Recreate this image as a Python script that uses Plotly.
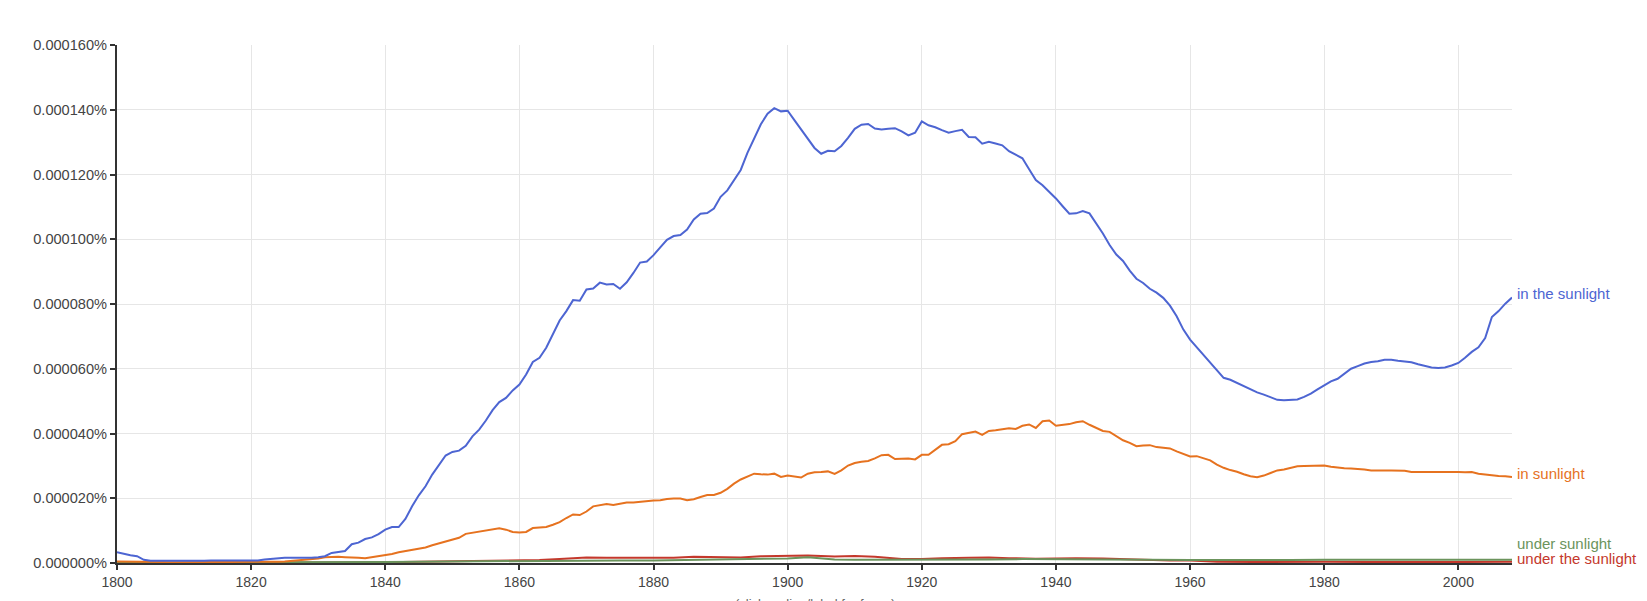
import plotly.graph_objects as go

# ---------------- data (values in units of 0.000001 %) ----------------
years = list(range(1800, 2009))

in_the_sunlight = [
    3.3, 2.8, 2.4, 2.1, 1.0, 0.7, 0.7, 0.7, 0.7, 0.6,          # 1800
    0.5, 0.5, 0.6, 0.7, 0.8, 0.8, 0.8, 0.9, 0.8, 0.7,          # 1810
    0.7, 0.8, 1.1, 1.3, 1.3, 1.6, 1.6, 1.6, 1.5, 1.6,          # 1820
    1.8, 2.1, 3.1, 3.4, 3.7, 5.8, 6.3, 7.4, 7.9, 8.9,          # 1830
    10.3, 11.1, 11.1, 13.6, 17.5, 20.9, 23.7, 27.3, 30.4, 33.2,  # 1840
    34.3, 34.7, 36.2, 39.1, 41.2, 44.0, 47.2, 49.7, 51.0, 53.3,  # 1850
    55.1, 58.2, 62.1, 63.4, 66.5, 70.6, 74.9, 77.8, 81.2, 81.0,  # 1860
    84.5, 84.8, 86.6, 86.0, 86.2, 84.7, 86.7, 89.6, 92.8, 93.1,  # 1870
    95.1, 97.5, 99.8, 101.0, 101.3, 103.0, 106.1, 107.9, 108.1, 109.5,  # 1880
    113.1, 115.1, 118.3, 121.4, 126.7, 131.2, 135.5, 138.8, 140.5, 139.5,  # 1890
    139.7, 136.8, 133.9, 131.0, 128.2, 126.4, 127.3, 127.2, 128.8, 131.3,  # 1900
    134.1, 135.4, 135.6, 134.2, 133.9, 134.1, 134.3, 133.3, 132.1, 132.9,  # 1910
    136.4, 135.2, 134.6, 133.7, 132.9, 133.4, 133.8, 131.6, 131.5, 129.5,  # 1920
    130.1, 129.6, 129.0, 127.2, 126.1, 125.0, 121.6, 118.3, 116.7, 114.7,  # 1930
    112.6, 110.2, 107.9, 108.0, 108.7, 108.0, 105.1, 101.8, 98.2, 95.3,   # 1940
    93.3, 90.3, 87.8, 86.5, 84.7, 83.5, 81.9, 79.5, 76.2, 72.1,  # 1950
    69.0, 66.6, 64.2, 61.8, 59.5, 57.2, 56.6, 55.6, 54.6, 53.6,  # 1960
    52.7, 52.0, 51.2, 50.4, 50.3, 50.4, 50.5, 51.3, 52.3, 53.6,  # 1970
    54.9, 56.1, 56.9, 58.5, 60.0, 60.8, 61.6, 62.1, 62.3, 62.8,  # 1980
    62.8, 62.5, 62.2, 62.0, 61.4, 60.8, 60.4, 60.2, 60.4, 61.0,  # 1990
    61.8, 63.4, 65.2, 66.6, 69.5, 76.0, 77.8, 80.1, 82.0,        # 2000
]

in_sunlight = [
    0.5, 0.5, 0.5, 0.4, 0.3, 0.3, 0.3, 0.3, 0.2, 0.2,          # 1800
    0.2, 0.2, 0.3, 0.3, 0.3, 0.3, 0.3, 0.3, 0.3, 0.3,          # 1810
    0.3, 0.3, 0.3, 0.3, 0.4, 0.5, 0.7, 0.8, 1.0, 1.1,          # 1820
    1.4, 1.8, 1.9, 1.9, 1.8, 1.6, 1.6, 1.5, 1.8, 2.3,          # 1830
    2.4, 2.8, 3.3, 3.7, 4.0, 4.3, 4.8, 5.5, 6.1, 6.8,          # 1840
    7.2, 7.8, 9.0, 9.3, 9.8, 10.1, 10.3, 10.7, 10.3, 9.6,      # 1850
    9.4, 9.6, 10.8, 11.0, 11.1, 11.8, 12.6, 13.9, 15.0, 14.8,  # 1860
    15.9, 17.5, 17.9, 18.2, 17.9, 18.4, 18.7, 18.7, 18.9, 19.3,  # 1870
    19.3, 19.4, 19.8, 19.9, 19.9, 19.4, 19.7, 20.4, 21.0, 21.0,  # 1880
    21.7, 22.9, 24.5, 25.8, 26.8, 27.6, 27.4, 27.3, 27.6, 26.6,  # 1890
    27.0, 26.6, 26.4, 27.6, 28.0, 28.1, 28.3, 27.5, 28.6, 30.1,  # 1900
    30.9, 31.3, 31.5, 32.3, 33.3, 33.4, 32.1, 32.2, 32.3, 32.0,  # 1910
    33.4, 33.4, 35.0, 36.5, 36.7, 37.6, 39.8, 40.1, 40.6, 39.6,  # 1920
    40.8, 41.0, 41.2, 41.6, 41.4, 42.4, 42.8, 41.7, 43.8, 44.0,  # 1930
    42.4, 42.6, 42.9, 43.5, 43.8, 42.7, 41.7, 40.8, 40.5, 39.1,  # 1940
    37.9, 37.1, 36.1, 36.3, 36.4, 35.8, 35.5, 35.4, 34.5, 33.8,  # 1950
    32.9, 33.0, 32.4, 31.7, 30.4, 29.4, 28.7, 28.2, 27.4, 26.8,  # 1960
    26.5, 27.0, 27.8, 28.6, 28.9, 29.4, 29.9, 30.0, 30.0, 30.2,  # 1970
    30.1, 29.7, 29.4, 29.3, 29.2, 29.1, 28.9, 28.6, 28.7, 28.6,  # 1980
    28.6, 28.5, 28.5, 28.1, 28.1, 28.1, 28.2, 28.3, 28.2, 28.2,  # 1990
    28.1, 28.0, 28.1, 27.6, 27.3, 27.1, 26.9, 26.8, 26.6,        # 2000
]

under_sunlight_years = [1800, 1810, 1820, 1830, 1835, 1840, 1845, 1850, 1855, 1860,
                        1865, 1870, 1875, 1880, 1885, 1890, 1895, 1900, 1903, 1907,
                        1910, 1915, 1920, 1925, 1930, 1935, 1940, 1945, 1950, 1955,
                        1960, 1965, 1970, 1975, 1980, 1985, 1990, 1995, 2000, 2005, 2008]
under_sunlight = [0.1, 0.1, 0.1, 0.2, 0.2, 0.3, 0.4, 0.5, 0.6, 0.7,
                  0.7, 0.8, 0.8, 0.8, 0.9, 1.0, 1.1, 1.4, 1.8, 1.1,
                  1.0, 1.0, 0.9, 1.0, 1.1, 1.2, 1.1, 1.0, 1.0, 0.9,
                  0.9, 0.9, 0.8, 0.9, 1.0, 1.0, 0.9, 0.9, 0.9, 1.0, 1.0]

under_the_sunlight_years = [1800, 1820, 1840, 1845, 1850, 1855, 1860, 1863, 1866, 1870,
                            1873, 1876, 1880, 1883, 1886, 1890, 1893, 1896, 1900, 1903,
                            1907, 1910, 1913, 1917, 1920, 1923, 1927, 1930, 1933, 1937,
                            1940, 1943, 1947, 1950, 1954, 1957, 1960, 1964, 1970, 1977,
                            1980, 1987, 1994, 2000, 2008]
under_the_sunlight = [0.0, 0.0, 0.2, 0.4, 0.5, 0.7, 0.8, 0.9, 1.2, 1.7,
                      1.6, 1.6, 1.4, 1.6, 1.9, 1.9, 1.7, 2.1, 2.3, 2.3,
                      2.0, 2.2, 1.9, 1.2, 1.2, 1.5, 1.6, 1.7, 1.5, 1.3,
                      1.4, 1.5, 1.4, 1.2, 1.0, 0.8, 0.8, 0.4, 0.3, 0.4,
                      0.4, 0.3, 0.2, 0.3, 0.4]

y_tick_values = [0, 20, 40, 60, 80, 100, 120, 140, 160]
y_tick_labels = ["0.000000%", "0.000020%", "0.000040%", "0.000060%", "0.000080%",
                 "0.000100%", "0.000120%", "0.000140%", "0.000160%"]
x_tick_values = [1800, 1820, 1840, 1860, 1880, 1900, 1920, 1940, 1960, 1980, 2000]

# ---------------- styling ----------------
FONT = "Arial, 'Liberation Sans', sans-serif"
C_BLUE = "#4d65d2"
C_ORANGE = "#e6721f"
C_GREEN = "#6b945c"
C_RED = "#c4382c"

series = [
    ("under the sunlight", under_the_sunlight_years, under_the_sunlight, C_RED, 3),
    ("under sunlight", under_sunlight_years, under_sunlight, C_GREEN, 16),
    ("in sunlight", years, in_sunlight, C_ORANGE, 3),
    ("in the sunlight", years, in_the_sunlight, C_BLUE, 4),
]

fig = go.Figure()
annotations = []
for name, xs, ys, color, yshift in series:
    fig.add_trace(go.Scatter(x=xs, y=ys, mode="lines", name=name,
                             line=dict(color=color, width=2), hoverinfo="x+y+name"))
    annotations.append(dict(x=xs[-1], y=ys[-1], xref="x", yref="y", text=name,
                            showarrow=False, xanchor="left", yanchor="middle",
                            xshift=3, yshift=yshift,
                            font=dict(family=FONT, size=15, color=color)))

annotations.append(dict(x=0.5, y=0, xref="paper", yref="paper",
                        text="(click on line/label for focus)", showarrow=False,
                        xanchor="center", yanchor="top", yshift=-31,
                        font=dict(family=FONT, size=13, color="#666")))

fig.update_layout(
    width=1647, height=601,
    margin=dict(l=117, r=135, t=45, b=38),
    paper_bgcolor="white", plot_bgcolor="white",
    showlegend=False,
    font=dict(family=FONT, size=13, color="#444"),
    annotations=annotations,
)
fig.update_xaxes(range=[1800, 2008], tickvals=x_tick_values,
                 showgrid=True, gridcolor="#e6e6e6", gridwidth=1,
                 showline=True, linecolor="#333", linewidth=2,
                 ticks="outside", ticklen=5, tickwidth=2, tickcolor="#333",
                 tickfont=dict(family=FONT, size=14, color="#444"),
                 zeroline=False, fixedrange=True)
fig.update_yaxes(range=[0, 160], tickvals=y_tick_values, ticktext=y_tick_labels,
                 showgrid=True, gridcolor="#e6e6e6", gridwidth=1,
                 showline=True, linecolor="#333", linewidth=2,
                 ticks="outside", ticklen=5, tickwidth=2, tickcolor="#333",
                 tickfont=dict(family=FONT, size=14.6, color="#444"),
                 zeroline=False, fixedrange=True)

fig.write_html("out.html", config={"displayModeBar": False})
